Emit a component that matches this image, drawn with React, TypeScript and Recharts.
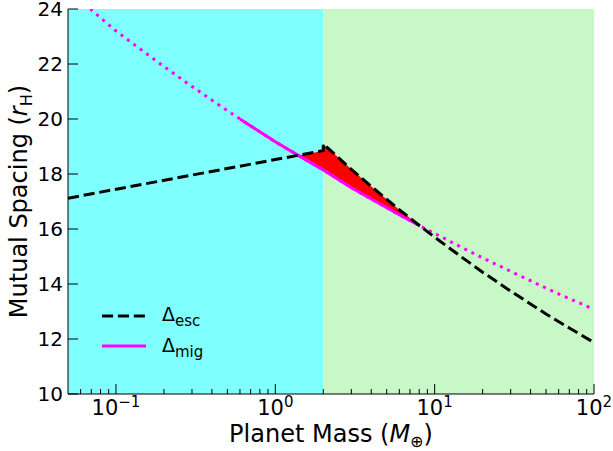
import { ComposedChart, Line, Area, XAxis, YAxis, ReferenceArea, Legend } from 'recharts';

const FONT = '"DejaVu Sans", sans-serif';

// regions (planet mass boundary)
const lowMassRange = [0.05, 2];
const highMassRange = [2, 100];

// Delta_esc: two branches, jump at 2 M_earth
const escMass = [0.05, 2, 2, 3, 4, 6, 8.1, 10, 15, 20, 30, 50, 70, 100];
const escSpacing = [17.12, 18.85, 19.09, 18.17, 17.55, 16.7, 16.11, 15.7, 14.95, 14.43, 13.74, 12.91, 12.4, 11.87];

// Delta_mig (dotted over whole range, solid between 0.6 and 8.1)
const migMass = [0.069, 0.1, 0.15, 0.2, 0.3, 0.45, 0.6, 1, 1.41, 2, 3, 4, 6, 8.1, 10, 15, 20, 30, 50, 70, 100];
const migSpacing = [24.0, 23.2, 22.44, 21.91, 21.18, 20.48, 20.0, 19.17, 18.66, 18.15, 17.5, 17.09, 16.52, 16.11, 15.84, 15.31, 14.95, 14.46, 13.85, 13.47, 13.08];
const migSolidRange = [0.6, 8.1];

// red wedge between Delta_mig (low) and Delta_esc (high)
const wedgeMass = [1.41, 2, 2, 3, 4, 6, 8.1];
const wedgeLow = [18.66, 18.15, 18.15, 17.5, 17.09, 16.52, 16.11];
const wedgeHigh = [18.66, 18.85, 19.09, 18.17, 17.55, 16.7, 16.11];

const xMajor = [0.1, 1, 10, 100];
const xMajorExp = ['−1', '0', '1', '2'];
const xMinor = [0.06, 0.07, 0.08, 0.09, 0.2, 0.3, 0.4, 0.5, 0.6, 0.7, 0.8, 0.9, 2, 3, 4, 5, 6, 7, 8, 9, 20, 30, 40, 50, 60, 70, 80, 90];
const xTicks = [...xMinor, ...xMajor].sort((a, b) => a - b);
const yTicks = [10, 12, 14, 16, 18, 20, 22, 24];

const escData = escMass.map((x, i) => ({ x, y: escSpacing[i] }));
const migData = migMass.map((x, i) => ({ x, y: migSpacing[i] }));
const migSolid = migData.filter(d => d.x >= migSolidRange[0] && d.x <= migSolidRange[1]);
const wedgeData = wedgeMass.map((x, i) => ({ x, r: [wedgeLow[i], wedgeHigh[i]] }));

const BottomTick = (p: any) => {
  const { x, y, payload } = p;
  const k = xMajor.indexOf(payload.value);
  const major = k >= 0;
  return (
    <g>
      <line x1={x} x2={x} y1={y} y2={y - (major ? 10 : 5)} stroke="#000" strokeWidth={1} />
      {major && (
        <text x={x} y={y + 21} textAnchor="middle" fontSize={21} fill="#000" fontFamily={FONT}>
          10<tspan dy={-8} fontSize={15}>{xMajorExp[k]}</tspan>
        </text>
      )}
    </g>
  );
};

const TopTick = (p: any) => {
  const { x, y, payload } = p;
  const major = xMajor.includes(payload.value);
  return <line x1={x} x2={x} y1={y} y2={y + (major ? 10 : 5)} stroke="#000" strokeWidth={1} />;
};

const LeftTick = (p: any) => {
  const { x, y, payload } = p;
  return (
    <g>
      <line x1={x} x2={x + 10} y1={y} y2={y} stroke="#000" strokeWidth={1} />
      <text x={x - 5} y={y} dy="0.36em" textAnchor="end" fontSize={20} fill="#000" fontFamily={FONT}>
        {payload.value}
      </text>
    </g>
  );
};

const RightTick = (p: any) => {
  const { x, y } = p;
  return <line x1={x} x2={x - 10} y1={y} y2={y} stroke="#000" strokeWidth={1} />;
};

const XLabel = (p: any) => {
  const vb = p.viewBox;
  return (
    <text x={vb.x + vb.width / 2} y={vb.y + 48} textAnchor="middle" fontSize={24} fill="#000" fontFamily={FONT}>
      Planet Mass (<tspan fontStyle="italic">M</tspan>
      <tspan dy={5} fontSize={16}>⊕</tspan>
      <tspan dy={-5}>)</tspan>
    </text>
  );
};

const YLabel = (p: any) => {
  const vb = p.viewBox;
  const cx = 27;
  const cy = vb.y + vb.height / 2;
  return (
    <text x={cx} y={cy} transform={`rotate(-90, ${cx}, ${cy})`} textAnchor="middle" fontSize={24} fill="#000" fontFamily={FONT}>
      Mutual Spacing (<tspan fontStyle="italic">r</tspan>
      <tspan dy={5} fontSize={16}>H</tspan>
      <tspan dy={-5}>)</tspan>
    </text>
  );
};

const LegendBox = () => (
  <svg width={130} height={70} style={{ display: 'block' }}>
    <line x1={7} x2={51} y1={21} y2={21} stroke="#000" strokeWidth={3} strokeDasharray="11.1 4.8" />
    <line x1={7} x2={51} y1={51} y2={51} stroke="#ff00ff" strokeWidth={3} />
    <text x={67} y={26} fontSize={19} fill="#000" fontFamily={FONT}>
      Δ<tspan dy={5} fontSize={15}>esc</tspan>
    </text>
    <text x={67} y={57} fontSize={19} fill="#000" fontFamily={FONT}>
      Δ<tspan dy={5} fontSize={15}>mig</tspan>
    </text>
  </svg>
);

export default function App() {
  return (
    <div style={{ position: 'absolute', left: 0, top: 0, width: 613, height: 451, background: '#fff' }}>
      <ComposedChart width={613} height={451} margin={{ top: 9, right: 19, bottom: 0, left: 8 }}>
        <XAxis
          dataKey="x"
          type="number"
          scale="log"
          domain={[0.05, 100]}
          allowDataOverflow
          ticks={xTicks}
          interval={0}
          height={57}
          tickSize={0}
          tickMargin={0}
          tickLine={false}
          tick={BottomTick}
          axisLine={{ stroke: '#000', strokeWidth: 1 }}
          label={XLabel}
        />
        <XAxis
          xAxisId="top"
          orientation="top"
          dataKey="x"
          type="number"
          scale="log"
          domain={[0.05, 100]}
          allowDataOverflow
          ticks={xTicks}
          interval={0}
          height={0}
          tickSize={0}
          tickMargin={0}
          tickLine={false}
          tick={TopTick}
          axisLine={{ stroke: '#000', strokeWidth: 1 }}
        />
        <YAxis
          type="number"
          domain={[10, 24]}
          allowDataOverflow
          ticks={yTicks}
          interval={0}
          width={60}
          tickSize={0}
          tickMargin={0}
          tickLine={false}
          tick={LeftTick}
          axisLine={{ stroke: '#000', strokeWidth: 1 }}
          label={YLabel}
        />
        <YAxis
          yAxisId="r"
          orientation="right"
          type="number"
          domain={[10, 24]}
          allowDataOverflow
          ticks={yTicks}
          interval={0}
          width={0}
          tickSize={0}
          tickMargin={0}
          tickLine={false}
          tick={RightTick}
          axisLine={{ stroke: '#000', strokeWidth: 1 }}
        />
        <ReferenceArea x1={lowMassRange[0]} x2={lowMassRange[1]} y1={10} y2={24} fill="#80ffff" fillOpacity={1} stroke="none" />
        <ReferenceArea x1={highMassRange[0]} x2={highMassRange[1]} y1={10} y2={24} fill="#c8f7c8" fillOpacity={1} stroke="none" />
        <Area
          data={wedgeData}
          dataKey="r"
          type="linear"
          fill="#ff0000"
          fillOpacity={1}
          stroke="none"
          isAnimationActive={false}
          activeDot={false}
        />
        <Line data={migData} dataKey="y" type="linear" stroke="#ff00ff" strokeWidth={3} strokeDasharray="3 4.95" dot={false} activeDot={false} isAnimationActive={false} />
        <Line data={migSolid} dataKey="y" type="linear" stroke="#ff00ff" strokeWidth={3} dot={false} activeDot={false} isAnimationActive={false} />
        <Line data={escData} dataKey="y" type="linear" stroke="#000" strokeWidth={3} strokeDasharray="11.1 4.8" dot={false} activeDot={false} isAnimationActive={false} />
        <Legend
          layout="horizontal"
          verticalAlign="middle"
          align="center"
          content={LegendBox}
          wrapperStyle={{ left: 95, top: 295, width: 130, height: 70 }}
        />
      </ComposedChart>
    </div>
  );
}
